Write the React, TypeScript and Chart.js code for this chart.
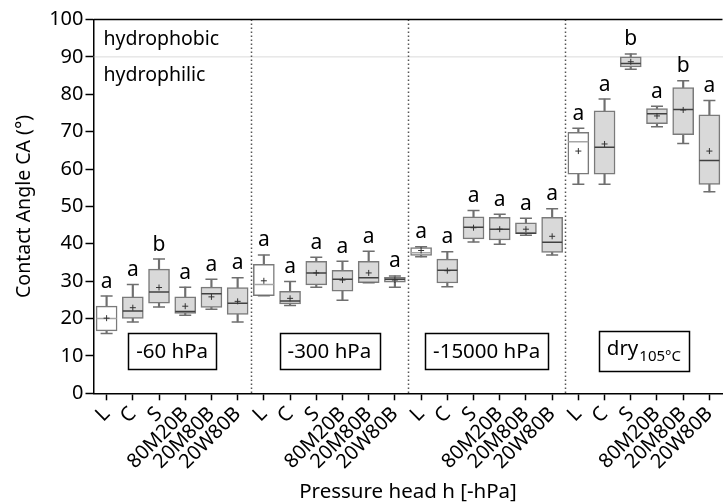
import React, { useEffect, useRef } from "react";
import { Chart, registerables } from "chart.js";

Chart.register(...registerables);

// ---------------- data ----------------
const groupLabels = ["-60 hPa", "-300 hPa", "-15000 hPa", "dry"];
const treatments = ["L", "C", "S", "80M20B", "20M80B", "20W80B"];
const categories = groupLabels.flatMap(() => treatments);

const whiskerMin = [
  16.0, 19.1, 23.1, 20.9, 22.5, 19.1,
  26.1, 23.5, 28.4, 24.9, 29.6, 28.4,
  36.5, 28.5, 40.5, 39.9, 42.3, 37.0,
  55.9, 55.9, 86.7, 71.3, 66.8, 53.9,
];
const q1 = [
  16.7, 20.0, 24.1, 21.4, 23.0, 21.1,
  26.1, 23.9, 29.0, 27.3, 29.6, 29.7,
  36.9, 29.5, 41.3, 41.0, 42.7, 37.7,
  58.6, 58.6, 87.3, 72.1, 69.2, 55.9,
];
const medians = [
  20.0, 22.0, 27.1, 21.9, 26.6, 24.1,
  29.1, 24.7, 32.2, 30.5, 30.9, 30.5,
  37.6, 32.9, 44.4, 43.9, 42.8, 40.4,
  67.3, 65.8, 88.2, 74.8, 75.9, 62.3,
];
const means = [
  20.1, 22.9, 28.3, 23.3, 25.8, 24.6,
  30.1, 25.4, 32.2, 30.3, 32.2, 30.3,
  38.2, 32.8, 44.3, 43.9, 43.9, 42.0,
  64.8, 66.7, 88.7, 74.2, 75.8, 64.8,
];
const q3 = [
  23.3, 25.8, 33.2, 25.8, 28.4, 28.3,
  34.5, 27.3, 35.3, 32.9, 35.3, 31.0,
  39.0, 35.9, 47.2, 47.1, 45.6, 47.1,
  69.8, 75.6, 90.0, 76.2, 81.8, 74.5,
];
const whiskerMax = [
  26.0, 29.1, 35.9, 28.4, 30.5, 30.9,
  37.0, 29.9, 36.4, 35.3, 38.0, 31.4,
  39.2, 37.9, 48.9, 47.9, 46.8, 49.4,
  70.9, 78.7, 90.8, 76.8, 83.6, 78.3,
];
const letters = [
  "a", "a", "b", "a", "a", "a",
  "a", "a", "a", "a", "a", "a",
  "a", "a", "a", "a", "a", "a",
  "a", "a", "b", "a", "b", "a",
];
const yTicks = [0, 10, 20, 30, 40, 50, 60, 70, 80, 90, 100];
const thresholdValue = 90;
const groupLabelValue = 11.3;

const FONT = "'Noto Sans', 'Open Sans', sans-serif";

const isL = (i: number) => i % 6 === 0;
const boxFill = categories.map((_, i) => (isL(i) ? "#ffffff" : "#d9d9d9"));
const medianColor = categories.map((_, i) => (isL(i) ? "#a6a6a6" : "#404040"));

const annotPlugin = {
  id: "annot",
  beforeDatasetsDraw(chart: any) {
    const { ctx, chartArea } = chart;
    const xs = chart.scales.x;
    const ys = chart.scales.y;
    ctx.save();
    // threshold line at 90
    const y90 = ys.getPixelForValue(thresholdValue);
    ctx.strokeStyle = "#b5b5b5";
    ctx.lineWidth = 1;
    ctx.setLineDash([1, 1]);
    ctx.beginPath();
    ctx.moveTo(chartArea.left, y90);
    ctx.lineTo(chartArea.right, y90);
    ctx.stroke();
    // group separators
    ctx.strokeStyle = "#555";
    ctx.lineWidth = 1.5;
    ctx.setLineDash([1.5, 2.5]);
    for (let g = 1; g < groupLabels.length; g++) {
      const a = xs.getPixelForValue(g * 6 - 1);
      const b = xs.getPixelForValue(g * 6);
      const x = Math.round((a + b) / 2) + 0.5;
      ctx.beginPath();
      ctx.moveTo(x, chartArea.top);
      ctx.lineTo(x, chartArea.bottom);
      ctx.stroke();
    }
    ctx.setLineDash([]);
    // hydrophobic / hydrophilic
    ctx.fillStyle = "#000";
    ctx.font = `19.5px ${FONT}`;
    ctx.textAlign = "left";
    ctx.textBaseline = "alphabetic";
    ctx.fillText("hydrophobic", chartArea.left + 10, y90 - 12);
    ctx.fillText("hydrophilic", chartArea.left + 10, y90 + 24);
    ctx.restore();
  },
  afterDatasetsDraw(chart: any) {
    const { ctx, chartArea } = chart;
    const xs = chart.scales.x;
    const ys = chart.scales.y;
    ctx.save();
    // letters
    ctx.fillStyle = "#000";
    ctx.font = `21px ${FONT}`;
    ctx.textAlign = "center";
    ctx.textBaseline = "alphabetic";
    letters.forEach((l, i) => {
      ctx.fillText(l, xs.getPixelForValue(i), ys.getPixelForValue(whiskerMax[i]) - 8.5);
    });
    // group label boxes
    const cy = ys.getPixelForValue(groupLabelValue);
    groupLabels.forEach((lab, g) => {
      const cx = (xs.getPixelForValue(g * 6 + 2) + xs.getPixelForValue(g * 6 + 3)) / 2;
      ctx.textAlign = "left";
      ctx.textBaseline = "alphabetic";
      let w: number;
      let h = 36;
      if (lab === "dry") {
        ctx.font = `20.5px ${FONT}`;
        const w1 = ctx.measureText("dry").width;
        ctx.font = `15px ${FONT}`;
        const w2 = ctx.measureText("105°C").width;
        w = w1 + w2 + 1;
        h = 40;
        const x0 = cx - w / 2;
        ctx.font = `20.5px ${FONT}`;
        ctx.fillText("dry", x0, cy + 4);
        ctx.font = `15px ${FONT}`;
        ctx.fillText("105°C", x0 + w1 + 1, cy + 10);
      } else {
        ctx.font = `20.5px ${FONT}`;
        w = ctx.measureText(lab).width;
        ctx.fillText(lab, cx - w / 2, cy + 7);
      }
      const bw = w + 16;
      ctx.strokeStyle = "#000";
      ctx.lineWidth = 1.5;
      ctx.strokeRect(Math.round(cx - bw / 2) + 0.5, Math.round(cy - h / 2) + 0.5, Math.round(bw), h);
    });
    // top border
    ctx.strokeStyle = "#000";
    ctx.lineWidth = 1.5;
    ctx.beginPath();
    ctx.moveTo(chartArea.left, chartArea.top);
    ctx.lineTo(chartArea.right, chartArea.top);
    ctx.stroke();
    ctx.restore();
  },
};

export default function App() {
  const ref = useRef<HTMLCanvasElement | null>(null);
  useEffect(() => {
    if (!ref.current) return;
    const chart = new Chart(ref.current, {
      type: "bar",
      data: {
        labels: categories,
        datasets: [
          {
            type: "bar",
            data: categories.map((_, i) => [whiskerMin[i], whiskerMax[i]]),
            backgroundColor: "#6f6f6f",
            borderWidth: 0,
            barThickness: 1.5,
            grouped: false,
            order: 5,
          } as any,
          {
            type: "bar",
            data: categories.map((_, i) => [q1[i], q3[i]]),
            backgroundColor: boxFill,
            borderColor: "#7a7a7a",
            borderWidth: 1.5,
            borderSkipped: false,
            barThickness: 21,
            grouped: false,
            order: 4,
          } as any,
          {
            type: "line",
            data: whiskerMax,
            showLine: false,
            pointStyle: "line",
            pointRadius: 6,
            pointBorderColor: "#6f6f6f",
            pointBorderWidth: 1.5,
            order: 3,
          } as any,
          {
            type: "line",
            data: whiskerMin,
            showLine: false,
            pointStyle: "line",
            pointRadius: 6,
            pointBorderColor: "#6f6f6f",
            pointBorderWidth: 1.5,
            order: 3,
          } as any,
          {
            type: "line",
            data: medians,
            showLine: false,
            pointStyle: "line",
            pointRadius: 10,
            pointBorderColor: medianColor,
            pointBorderWidth: 1.5,
            order: 2,
          } as any,
          {
            type: "line",
            data: means,
            showLine: false,
            pointStyle: "cross",
            pointRadius: 3,
            pointBorderColor: "#333",
            pointBorderWidth: 1,
            order: 1,
          } as any,
        ],
      },
      options: {
        animation: false,
        responsive: false,
        devicePixelRatio: 1,
        layout: { padding: { top: 19.5, left: 0, right: 0, bottom: 0 } },
        plugins: { legend: { display: false }, tooltip: { enabled: false } },
        scales: {
          x: {
            type: "category",
            offset: true,
            grid: {
              display: true,
              offset: false,
              drawOnChartArea: false,
              drawTicks: true,
              tickLength: 7,
              tickColor: "#000",
              tickWidth: 1.5,
            },
            border: { display: true, color: "#000", width: 1.5 },
            ticks: {
              autoSkip: false,
              minRotation: 45,
              maxRotation: 45,
              color: "#000",
              padding: 2,
              font: { family: FONT, size: 20 },
            },
            title: {
              display: true,
              text: "Pressure head h [-hPa]",
              color: "#000",
              font: { family: FONT, size: 20.5 },
              padding: { top: 0, bottom: 0 },
            },
            afterFit: (s: any) => {
              s.height = 110.7;
              s.paddingLeft = 0;
              s.paddingRight = 0;
            },
          },
          y: {
            type: "linear",
            min: 0,
            max: 100,
            afterBuildTicks: (s: any) => {
              s.ticks = yTicks.map((v) => ({ value: v }));
            },
            grid: {
              display: true,
              drawOnChartArea: false,
              drawTicks: true,
              tickLength: 8,
              tickColor: "#000",
              tickWidth: 1.5,
            },
            border: { display: true, color: "#000", width: 1.5 },
            ticks: {
              color: "#000",
              padding: 2,
              font: { family: FONT, size: 20 },
            },
            title: {
              display: true,
              text: "Contact Angle CA (°)",
              color: "#000",
              font: { family: FONT, size: 19.5 },
              padding: { top: 13, bottom: 0 },
            },
            afterFit: (s: any) => {
              s.width = 93.5;
            },
          },
        },
      },
      plugins: [annotPlugin],
    } as any);
    return () => chart.destroy();
  }, []);
  return (
    <div style={{ position: "fixed", left: 0, top: 0, width: 725, height: 504, overflow: "hidden", background: "#fff" }}>
      <canvas ref={ref} width={734} height={504} style={{ width: 734, height: 504, display: "block" }} />
    </div>
  );
}
